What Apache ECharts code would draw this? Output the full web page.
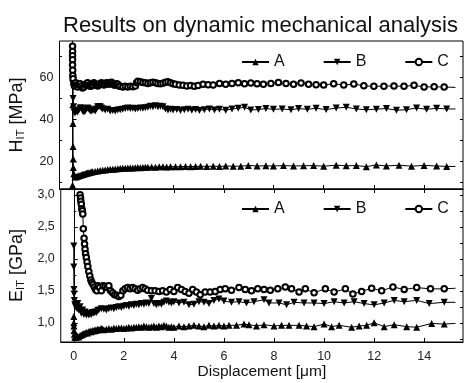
<!DOCTYPE html>
<html><head><meta charset="utf-8">
<script src="https://cdn.jsdelivr.net/npm/echarts@6/dist/echarts.min.js"></script>
<style>html,body{margin:0;padding:0;background:#fff}#c{width:472px;height:383px}</style>
</head><body><div id="c"></div>
<script>
const title = 'Results on dynamic mechanical analysis';
const xName = 'Displacement [\u03bcm]';
const seriesNames = ['A', 'B', 'C'];
const xTicks = [0, 2, 4, 6, 8, 10, 12, 14];
const hTicks = [20, 40, 60];
const hMinor = [10, 30, 50, 70];
const eTicks = [1.0, 1.5, 2.0, 2.5, 3.0];
const eMinor = [0.75, 1.25, 1.75, 2.25, 2.75];

// Top panel: H_IT [MPa]
const hA = [[0,8.5],[0.005,62],[0.01,47],[0.015,38],[0.02,27],[0.025,21],[0.03,17],[0.05,14],[0.1,12.5],[0.15,12.6],[0.2,12.8],[0.25,13.0],[0.3,13.2],[0.35,13.4],[0.4,13.6],[0.45,13.8],[0.5,14.0],[0.55,14.2],[0.6,14.3],[0.65,14.5],[0.7,14.6],[0.75,14.8],[0.8,14.9],[0.9,15.1],[1.0,15.3],[1.1,15.5],[1.2,15.7],[1.3,15.8],[1.4,16.0],[1.5,16.1],[1.6,16.2],[1.7,16.3],[1.8,16.4],[1.9,16.5],[2.0,16.6],[2.1,16.6],[2.2,16.7],[2.3,16.8],[2.4,16.8],[2.5,16.9],[2.6,17.0],[2.7,16.9],[2.8,17.0],[2.9,17.1],[3.0,17.1],[3.15,17.2],[3.3,17.1],[3.45,17.3],[3.6,17.3],[3.75,17.2],[3.9,17.4],[4.1,17.3],[4.3,17.4],[4.5,17.5],[4.7,17.4],[4.9,17.5],[5.1,17.6],[5.35,17.5],[5.6,17.6],[5.85,17.5],[6.1,17.7],[6.4,17.6],[6.7,17.6],[7.0,18.0],[7.35,17.7],[7.7,17.8],[8.0,17.7],[8.4,17.9],[8.8,17.7],[9.2,17.8],[9.6,17.9],[10.0,17.6],[10.5,18.1],[10.9,17.8],[11.3,17.9],[11.7,17.4],[12.1,18.2],[12.5,17.7],[13.0,18.1],[13.5,17.6],[14.0,18.0],[14.5,17.7],[14.9,17.5],[15.25,17.5]];
const hB = [[0,62],[0.01,57],[0.02,50],[0.04,46],[0.06,43.5],[0.1,43],[0.15,44],[0.2,43.5],[0.25,44.5],[0.3,45.5],[0.35,45.5],[0.4,44],[0.45,43.5],[0.5,44],[0.55,45],[0.6,45.5],[0.65,45],[0.7,44],[0.75,44],[0.8,44.5],[0.85,44.5],[0.9,44],[0.95,45],[1.0,46],[1.05,46.2],[1.1,46],[1.15,45.5],[1.2,45],[1.3,44.5],[1.4,44.8],[1.5,44],[1.6,44.2],[1.7,44],[1.8,44.5],[1.9,44.6],[2.0,44.8],[2.1,45.2],[2.2,45.5],[2.3,45.2],[2.4,45.3],[2.5,45],[2.6,45.2],[2.7,45.5],[2.8,45.3],[2.9,45.6],[3.0,45.8],[3.1,46.3],[3.2,46.0],[3.3,46.5],[3.4,46],[3.5,46.3],[3.6,46],[3.7,45],[3.8,44.5],[3.9,44.8],[4.0,44.5],[4.15,44.7],[4.3,44.3],[4.45,44.6],[4.6,44.8],[4.75,44.4],[4.9,44.7],[5.05,44.3],[5.25,44.6],[5.45,45.0],[5.65,44.5],[5.85,44.8],[6.1,44.4],[6.35,45.0],[6.6,45.3],[6.85,45.8],[7.1,44.5],[7.4,44.7],[7.7,45.2],[8.0,44.8],[8.35,45.0],[8.7,44.6],[9.0,45.2],[9.35,44.8],[9.7,45.3],[10.1,44.7],[10.5,45.4],[10.9,45.8],[11.3,45.0],[11.7,44.6],[12.1,44.9],[12.5,45.2],[12.9,44.4],[13.3,44.6],[13.7,45.5],[14.1,44.8],[14.5,45.3],[14.9,45.0],[15.25,45.0]];
const hC = [[0,75],[0,72.5],[0,70.5],[0,68.5],[0,66],[0.005,63.5],[0.01,61],[0.02,59.5],[0.05,57],[0.08,56],[0.12,57.5],[0.16,56.5],[0.2,55.5],[0.25,56.5],[0.3,57],[0.35,56],[0.4,55],[0.45,55.5],[0.5,56.5],[0.55,57],[0.6,57.5],[0.65,56.5],[0.7,55.8],[0.75,56],[0.8,56.5],[0.85,57.5],[0.9,57],[0.95,56.5],[1.0,56],[1.05,56.5],[1.1,57],[1.15,57.5],[1.2,57],[1.25,56.5],[1.3,57],[1.35,57.5],[1.4,57.2],[1.45,56.8],[1.5,57.5],[1.55,57.8],[1.6,57],[1.65,56.5],[1.7,56.5],[1.75,57],[1.8,56.8],[1.85,56],[1.9,55.8],[2.0,55.5],[2.1,55.8],[2.2,55.5],[2.3,55.8],[2.4,55.6],[2.5,56],[2.55,57.5],[2.6,58.2],[2.7,58],[2.8,57.6],[2.9,57.5],[3.0,57.2],[3.1,57.5],[3.2,57.8],[3.3,57.5],[3.4,57.2],[3.5,57],[3.6,57.3],[3.7,57.8],[3.8,58],[3.9,57.5],[4.0,57],[4.1,56.8],[4.25,56.5],[4.4,56.3],[4.55,56.0],[4.7,56.2],[4.85,55.8],[5.0,56.2],[5.2,56.8],[5.4,56.6],[5.6,56.5],[5.85,57.2],[6.1,56.8],[6.35,57.2],[6.6,57.5],[6.85,57.0],[7.1,57.4],[7.35,57.0],[7.6,56.8],[7.9,57.2],[8.2,57.6],[8.5,57.2],[8.8,56.8],[9.1,57.4],[9.4,56.8],[9.7,56.6],[10.0,56.4],[10.4,57.1],[10.8,56.4],[11.2,56.9],[11.6,56.1],[12.0,55.8],[12.4,55.9],[12.8,56.0],[13.2,55.8],[13.6,56.3],[14.0,55.5],[14.4,55.6],[14.8,55.5],[15.25,55.3]];

// Bottom panel: E_IT [GPa]
const eA = [[0,1.1],[0,1.0],[0.005,0.95],[0.01,0.88],[0.02,0.82],[0.04,0.78],[0.07,0.77],[0.1,0.78],[0.15,0.79],[0.2,0.78],[0.25,0.8],[0.3,0.81],[0.35,0.82],[0.4,0.83],[0.45,0.84],[0.5,0.85],[0.55,0.84],[0.6,0.86],[0.65,0.87],[0.7,0.86],[0.75,0.88],[0.8,0.87],[0.85,0.89],[0.9,0.88],[0.95,0.9],[1.0,0.89],[1.05,0.9],[1.1,0.91],[1.15,0.9],[1.2,0.89],[1.3,0.9],[1.4,0.91],[1.5,0.9],[1.6,0.92],[1.7,0.91],[1.8,0.92],[1.9,0.92],[2.0,0.91],[2.1,0.92],[2.2,0.93],[2.3,0.92],[2.4,0.93],[2.5,0.93],[2.6,0.94],[2.7,0.93],[2.8,0.95],[2.9,0.94],[3.0,0.93],[3.1,0.94],[3.2,0.95],[3.3,0.93],[3.4,0.95],[3.5,0.94],[3.6,0.96],[3.7,0.95],[3.8,0.93],[3.9,0.94],[4.0,0.93],[4.2,0.95],[4.4,0.94],[4.6,0.95],[4.8,0.96],[5.0,0.95],[5.2,0.94],[5.4,0.96],[5.6,0.95],[5.8,0.96],[6.0,0.95],[6.2,0.96],[6.5,0.96],[6.8,0.98],[7.0,0.97],[7.3,0.95],[7.6,0.97],[8.0,0.95],[8.3,0.96],[8.6,0.96],[9.0,0.96],[9.3,0.95],[9.6,0.94],[10.0,0.98],[10.3,0.94],[10.6,0.96],[11.1,0.93],[11.4,0.95],[11.7,0.96],[12.0,1.0],[12.4,0.94],[12.8,0.97],[13.3,0.94],[13.7,0.93],[14.3,0.99],[14.8,0.98],[15.25,0.99]];
const eB = [[0,2.2],[0,1.87],[0.005,1.52],[0.01,1.45],[0.02,1.35],[0.04,1.28],[0.07,1.25],[0.1,1.3],[0.13,1.22],[0.16,1.3],[0.2,1.2],[0.25,1.25],[0.3,1.15],[0.35,1.2],[0.4,1.13],[0.45,1.17],[0.5,1.12],[0.55,1.15],[0.6,1.12],[0.65,1.14],[0.7,1.13],[0.75,1.16],[0.8,1.15],[0.85,1.17],[0.9,1.16],[0.95,1.19],[1.0,1.2],[1.1,1.22],[1.2,1.21],[1.3,1.2],[1.4,1.22],[1.5,1.23],[1.6,1.22],[1.7,1.24],[1.8,1.25],[1.9,1.24],[2.0,1.26],[2.1,1.27],[2.2,1.26],[2.3,1.28],[2.4,1.27],[2.5,1.29],[2.6,1.28],[2.7,1.3],[2.8,1.29],[2.9,1.31],[3.0,1.3],[3.1,1.38],[3.2,1.3],[3.3,1.28],[3.4,1.3],[3.5,1.29],[3.6,1.32],[3.7,1.34],[3.8,1.32],[3.9,1.31],[4.0,1.33],[4.2,1.31],[4.4,1.32],[4.6,1.28],[4.8,1.29],[5.0,1.33],[5.2,1.32],[5.4,1.3],[5.6,1.35],[5.8,1.37],[6.0,1.34],[6.3,1.32],[6.6,1.33],[6.9,1.31],[7.2,1.33],[7.6,1.36],[7.8,1.31],[8.2,1.31],[8.5,1.28],[8.8,1.32],[9.2,1.31],[9.6,1.31],[10.0,1.3],[10.4,1.33],[10.8,1.31],[11.2,1.33],[11.6,1.3],[12.0,1.28],[12.4,1.31],[12.8,1.35],[13.2,1.33],[13.7,1.35],[14.2,1.3],[14.8,1.32],[15.25,1.32]];
const eC = [[0.25,3.0],[0.27,2.95],[0.28,2.9],[0.3,2.85],[0.32,2.78],[0.34,2.75],[0.36,2.7],[0.38,2.47],[0.41,2.32],[0.43,2.23],[0.45,2.15],[0.47,2.08],[0.5,2.02],[0.53,1.95],[0.56,1.88],[0.6,1.8],[0.64,1.73],[0.68,1.67],[0.72,1.63],[0.77,1.6],[0.82,1.56],[0.87,1.52],[0.92,1.5],[0.97,1.58],[1.03,1.55],[1.1,1.5],[1.17,1.58],[1.25,1.57],[1.33,1.55],[1.4,1.58],[1.47,1.5],[1.55,1.47],[1.63,1.44],[1.72,1.43],[1.8,1.41],[1.88,1.43],[1.96,1.5],[2.05,1.53],[2.15,1.55],[2.25,1.53],[2.35,1.55],[2.45,1.53],[2.55,1.51],[2.65,1.53],[2.75,1.55],[2.85,1.53],[2.95,1.51],[3.1,1.5],[3.25,1.5],[3.4,1.49],[3.55,1.5],[3.7,1.48],[3.85,1.52],[4.0,1.49],[4.15,1.55],[4.3,1.52],[4.45,1.49],[4.6,1.46],[4.75,1.52],[4.9,1.48],[5.05,1.44],[5.25,1.48],[5.45,1.48],[5.65,1.49],[5.85,1.52],[6.05,1.53],[6.3,1.51],[6.6,1.55],[6.85,1.52],[7.1,1.5],[7.35,1.53],[7.6,1.52],[7.85,1.51],[8.15,1.53],[8.45,1.56],[8.7,1.53],[9.0,1.48],[9.25,1.53],[9.6,1.47],[10.05,1.53],[10.4,1.48],[10.85,1.53],[11.15,1.45],[11.5,1.49],[11.9,1.54],[12.3,1.5],[12.75,1.56],[13.2,1.52],[13.7,1.55],[14.25,1.53],[14.8,1.53],[15.25,1.54]];

const FONT = 'Liberation Sans, Arial, sans-serif';
const chart = echarts.init(document.getElementById('c'), null, {renderer: 'canvas'});
const X_MIN = -0.52, X_MAX = 15.55;
const commaFmt = v => v.toFixed(1).replace('.', ',');

function mkSeries(name, data, sym, rot, xi, yi) {
  const last = data.length - 1;
  const items = data.map((d, i) => i === last ? {value: d, symbol: 'none'} : d);
  const isCircle = sym === 'emptyCircle';
  return {
    type: 'line', name, data: items, xAxisIndex: xi, yAxisIndex: yi,
    symbol: sym,
    symbolSize: isCircle ? 5.5 : 7,
    symbolRotate: rot,
    showAllSymbol: true,
    lineStyle: {color: '#000', width: 1},
    itemStyle: {color: '#000', borderColor: '#000', borderWidth: isCircle ? 0.9 : 0},
    animation: false, z: 3, clip: true
  };
}
const noLine = {show: false};
const baseTick = (vals, len) => ({show: true, inside: true, length: len, customValues: vals, lineStyle: {color: '#000', width: 1}});

const legendBase = {
  left: 236, itemWidth: 27, itemHeight: 8, itemGap: 38,
  textStyle: {fontFamily: FONT, fontSize: 16, color: '#111'},
  data: seriesNames
};

chart.setOption({
  backgroundColor: '#fff',
  animation: false,
  title: {text: title, left: 58, top: 10, textStyle: {fontFamily: FONT, fontSize: 22, fontWeight: 'normal', color: '#111'}},
  legend: [
    Object.assign({}, legendBase, {top: 49}),
    Object.assign({}, legendBase, {top: 196})
  ],
  grid: [
    {left: 59, right: 9, top: 41, height: 148, show: true, borderColor: '#000', borderWidth: 1, backgroundColor: 'transparent'},
    {left: 59, right: 9, top: 189, height: 153, show: true, borderColor: '#000', borderWidth: 1, backgroundColor: 'transparent'}
  ],
  xAxis: [
    {type: 'value', gridIndex: 0, min: X_MIN, max: X_MAX, position: 'bottom', axisLine: {show: true, lineStyle: {color: '#000'}}, axisTick: baseTick(xTicks, 4), axisLabel: {show: false}, splitLine: noLine},
    {type: 'value', gridIndex: 1, min: X_MIN, max: X_MAX, position: 'bottom', axisLine: {show: true, lineStyle: {color: '#000'}}, axisTick: baseTick(xTicks, 4),
      axisLabel: {show: true, customValues: xTicks, margin: 8, fontFamily: FONT, fontSize: 12.5, color: '#222'}, splitLine: noLine,
      name: xName, nameLocation: 'middle', nameGap: 19, nameTextStyle: {fontFamily: FONT, fontSize: 15.5, color: '#111', verticalAlign: 'top'}},
    {type: 'value', gridIndex: 1, min: X_MIN, max: X_MAX, position: 'top', axisLine: {show: false}, axisTick: baseTick(xTicks, 4), axisLabel: {show: false}, splitLine: noLine}
  ],
  yAxis: [
    {type: 'value', gridIndex: 0, min: 6.7, max: 77.5, position: 'left', axisLine: {show: true, lineStyle: {color: '#000'}}, axisTick: baseTick(hTicks, 4),
      axisLabel: {show: true, customValues: hTicks, margin: 6, fontFamily: FONT, fontSize: 12.5, color: '#222'}, splitLine: noLine,
      name: '{b|H}{s|IT}{b| [MPa]}', nameLocation: 'middle', nameGap: 33, nameRotate: 90,
      nameTextStyle: {rich: {b: {fontFamily: FONT, fontSize: 18, color: '#111'}, s: {fontFamily: FONT, fontSize: 11, color: '#111', padding: [8, 0, 0, 0]}}}},
    {type: 'value', gridIndex: 0, min: 6.7, max: 77.5, position: 'left', axisLine: {show: false}, axisTick: baseTick(hMinor, 2.5), axisLabel: {show: false}, splitLine: noLine},
    {type: 'value', gridIndex: 0, min: 6.7, max: 77.5, position: 'right', axisLine: {show: false}, axisTick: baseTick(hMinor.concat(hTicks), 3), axisLabel: {show: false}, splitLine: noLine},
    {type: 'value', gridIndex: 1, min: 0.7, max: 3.09, position: 'left', axisLine: {show: true, lineStyle: {color: '#000'}}, axisTick: baseTick(eTicks, 4),
      axisLabel: {show: true, customValues: eTicks, margin: 6, fontFamily: FONT, fontSize: 12.5, color: '#222', formatter: commaFmt}, splitLine: noLine,
      name: '{b|E}{s|IT}{b| [GPa]}', nameLocation: 'middle', nameGap: 33, nameRotate: 90,
      nameTextStyle: {rich: {b: {fontFamily: FONT, fontSize: 18, color: '#111'}, s: {fontFamily: FONT, fontSize: 11, color: '#111', padding: [8, 0, 0, 0]}}}},
    {type: 'value', gridIndex: 1, min: 0.7, max: 3.09, position: 'left', axisLine: {show: false}, axisTick: baseTick(eMinor, 2.5), axisLabel: {show: false}, splitLine: noLine},
    {type: 'value', gridIndex: 1, min: 0.7, max: 3.09, position: 'right', axisLine: {show: false}, axisTick: baseTick(eMinor.concat(eTicks), 3), axisLabel: {show: false}, splitLine: noLine}
  ],
  series: [
    mkSeries('A', hA, 'triangle', 0, 0, 0),
    mkSeries('B', hB, 'triangle', 180, 0, 0),
    mkSeries('C', hC, 'emptyCircle', 0, 0, 0),
    mkSeries('A', eA, 'triangle', 0, 1, 3),
    mkSeries('B', eB, 'triangle', 180, 1, 3),
    mkSeries('C', eC, 'emptyCircle', 0, 1, 3)
  ]
});
</script></body></html>
